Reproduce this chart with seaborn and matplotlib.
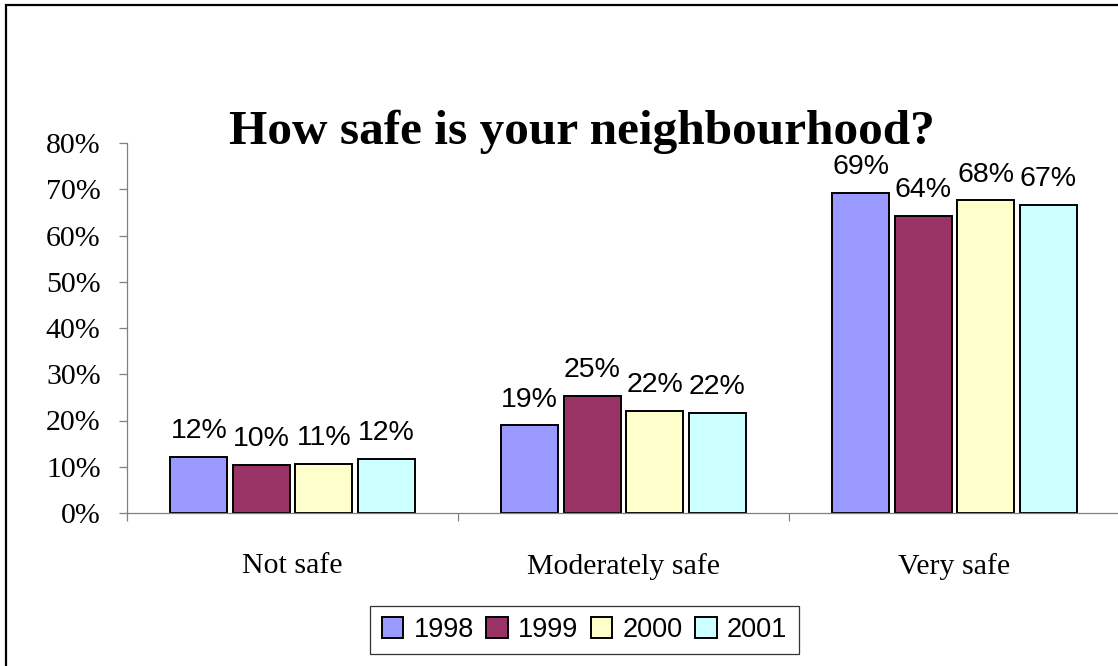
import matplotlib
matplotlib.use("Agg")
import matplotlib.pyplot as plt
from matplotlib.patches import Rectangle
from matplotlib.ticker import FuncFormatter, FixedLocator
import seaborn as sns
import pandas as pd

categories = ["Not safe", "Moderately safe", "Very safe"]
years = ["1998", "1999", "2000", "2001"]
v1998 = [0.122, 0.190, 0.692]
v1999 = [0.104, 0.254, 0.643]
v2000 = [0.106, 0.221, 0.676]
v2001 = [0.117, 0.217, 0.666]
colors = ["#9999FF", "#993366", "#FFFFCC", "#CCFFFF"]
title = "How safe is your neighbourhood?"

rows = []
for yr, vals in zip(years, [v1998, v1999, v2000, v2001]):
    for cat, v in zip(categories, vals):
        rows.append({"category": cat, "year": yr, "value": v})
df = pd.DataFrame(rows)

sns.set_theme(style="white")
plt.rcParams["font.family"] = ["Liberation Sans", "DejaVu Sans"]
plt.rcParams["text.color"] = "black"

W, H = 1118, 666
fig = plt.figure(figsize=(W / 100, H / 100), dpi=100)
fig.patch.set_facecolor("white")
ax = fig.add_axes([127 / W, 1 - 513 / H, (1120 - 127) / W, (513 - 143) / H])

sns.barplot(data=df, x="category", y="value", hue="year", order=categories,
            hue_order=years, palette=colors, width=0.755, gap=0.088,
            saturation=1, edgecolor="black", linewidth=1.4, ax=ax,
            errorbar=None)

ax.set_xlim(-0.5, 2.5)
ax.set_ylim(0, 0.8)
ax.set_xlabel("")
ax.set_ylabel("")
ax.set_facecolor("white")
for s in ["top", "right"]:
    ax.spines[s].set_visible(False)
for s in ["left", "bottom"]:
    ax.spines[s].set_color("#808080")
    ax.spines[s].set_linewidth(0.9)

ax.set_yticks([i / 10 for i in range(9)])
ax.yaxis.set_major_formatter(FuncFormatter(lambda v, p: f"{v:.0%}"))
ax.tick_params(axis="y", which="major", left=True, length=6, width=0.9,
               color="#808080", pad=13, labelsize=21.5, labelcolor="black")
for lab in ax.get_yticklabels():
    lab.set_fontfamily("Liberation Serif")

ax.set_xticks([0, 1, 2])
ax.set_xticklabels(categories)
ax.xaxis.set_minor_locator(FixedLocator([-0.5, 0.5, 1.5, 2.5]))
ax.tick_params(axis="x", which="major", bottom=True, length=0, pad=29,
               labelsize=21.5, labelcolor="black")
ax.tick_params(axis="x", which="minor", bottom=True, length=6, width=0.9,
               color="#808080")
for lab in ax.get_xticklabels():
    lab.set_fontfamily("Liberation Serif")

for cont in ax.containers:
    ax.bar_label(cont, fmt=lambda v: f"{v:.0%}", padding=9.0, fontsize=20.5,
                 color="black", family="Liberation Sans")

handles, labels = ax.get_legend_handles_labels()
if ax.get_legend() is not None:
    ax.get_legend().remove()
leg = fig.legend(handles, labels, loc="center", ncol=4,
                 bbox_to_anchor=(584.5 / W, 1 - 630 / H),
                 prop={"family": "Liberation Sans", "size": 19.5},
                 frameon=True, fancybox=False, edgecolor="black",
                 handlelength=0.8, handleheight=0.8, handletextpad=0.38,
                 columnspacing=0.45, borderpad=0.42, borderaxespad=0)
leg.get_frame().set_linewidth(0.9)
for t in leg.get_texts():
    t.set_color("black")

fig.text(582 / W, 1 - 144 / H, title, ha="center", va="baseline",
         fontsize=35.5, fontweight="bold", family="Liberation Serif",
         color="black")

fig.add_artist(Rectangle((6 / W, -0.2), 1.5, 1.2 - 5 / H,
                         transform=fig.transFigure, fill=False,
                         edgecolor="black", linewidth=1.6))

fig.savefig("out.png", dpi=100)
